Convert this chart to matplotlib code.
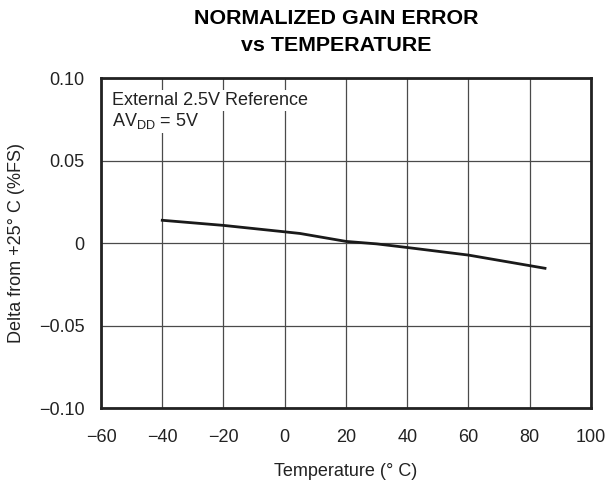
import numpy as np
from matplotlib import pyplot as plt

plt.rcParams['font.family'] = ['Liberation Sans', 'DejaVu Sans']

temp = [-40, -20, 0, 5, 20, 30, 40, 60, 85]
delta = [0.0138, 0.0107, 0.0068, 0.0058, 0.0010, -0.0005, -0.0027, -0.0073, -0.0153]
xticks = [-60, -40, -20, 0, 20, 40, 60, 80, 100]
yticks = [-0.10, -0.05, 0, 0.05, 0.10]
ylabels = ['\u22120.10', '\u22120.05', '0', '0.05', '0.10']
xlabels = [str(t).replace('-', '\u2212') for t in xticks]

fig = plt.figure(figsize=(6.13, 4.82), dpi=100)
ax = fig.add_axes([0.1648, 0.1535, 0.7992, 0.6845])

ax.plot(temp, delta, color='#1a1a1a', lw=2.0)
ax.set_xlim(-60, 100)
ax.set_ylim(-0.10, 0.10)
ax.set_xticks(xticks)
ax.set_xticklabels(xlabels)
ax.set_yticks(yticks)
ax.set_yticklabels(ylabels)
ax.tick_params(length=0, labelsize=13, colors='#222222')
ax.tick_params(axis='x', pad=15)
ax.tick_params(axis='y', pad=12)
ax.grid(True, color='#4a4a4a', lw=0.9)
for s in ax.spines.values():
    s.set_linewidth(2.0)
    s.set_color('#222222')

box = dict(facecolor='white', edgecolor='none', pad=1.5)
ax.text(-56.4, 0.0836, 'External 2.5V Reference', fontsize=13, va='baseline', ha='left',
        color='#222222', bbox=box)
ax.text(-56.4, 0.0709, 'AV$_{\\mathregular{DD}}$ = 5V', fontsize=13, va='baseline', ha='left',
        color='#222222', bbox=box)

ax.set_xlabel('Temperature (\u00b0 C)', fontsize=13, labelpad=12, color='#222222')
ax.set_ylabel('Delta from +25\u00b0 C (%FS)', fontsize=13, labelpad=10, color='#222222')
fig.text(0.548, 0.981, 'NORMALIZED GAIN ERROR\nvs TEMPERATURE', ha='center', va='top',
         fontsize=15.4, fontweight='bold', linespacing=1.5)

fig.savefig('out.png', dpi=100)
